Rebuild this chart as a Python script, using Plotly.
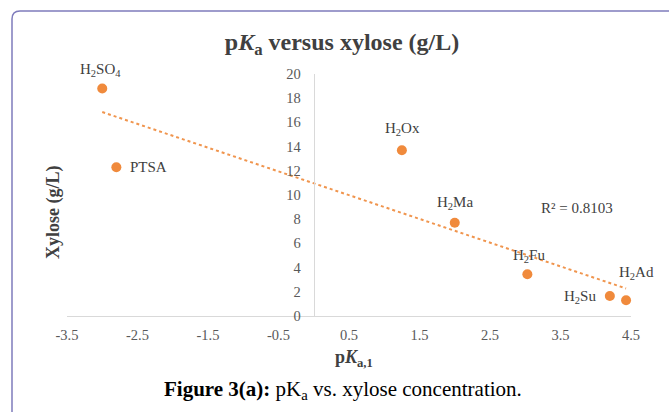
import numpy as np
import plotly.graph_objects as go

acids = ["H<sub>2</sub>SO<sub>4</sub>", "PTSA", "H<sub>2</sub>Ox", "H<sub>2</sub>Ma",
         "H<sub>2</sub>Fu", "H<sub>2</sub>Su", "H<sub>2</sub>Ad"]
pka1 = [-3.0, -2.8, 1.25, 2.0, 3.03, 4.2, 4.43]
xylose = [18.8, 12.3, 13.7, 7.7, 3.45, 1.65, 1.3]
x_ticks = [-3.5, -2.5, -1.5, -0.5, 0.5, 1.5, 2.5, 3.5, 4.5]
y_ticks = [0, 2, 4, 6, 8, 10, 12, 14, 16, 18, 20]
r2_text = "R² = 0.8103"

# label pixel offsets (style only): (xshift, yshift)
label_shift = [(-2, 19), (32, 0), (1, 21), (0, 20), (2, 18), (-30, -1), (10, 27)]

orange = "#F08A3C"
serif = "Liberation Serif, Times New Roman, serif"
gray = "#595959"
dark = "#404040"

slope, intercept = np.polyfit(pka1, xylose, 1)
tx = np.array([min(pka1), max(pka1)])
ty = slope * tx + intercept

fig = go.Figure()
fig.add_trace(go.Scatter(
    x=tx, y=ty, mode="lines",
    line=dict(color="#F0954E", width=2, dash="dot"),
    hoverinfo="skip", showlegend=False))
fig.add_trace(go.Scatter(
    x=pka1, y=xylose, mode="markers",
    marker=dict(color=orange, size=10),
    cliponaxis=False, showlegend=False))

for name, xv, yv, (dx, dy) in zip(acids, pka1, xylose, label_shift):
    fig.add_annotation(text=name, x=xv, y=yv, xref="x", yref="y",
                       xshift=dx, yshift=dy, showarrow=False,
                       xanchor="center", yanchor="middle",
                       font=dict(family=serif, size=15, color=dark))

fig.update_layout(
    width=669, height=412,
    margin=dict(l=67, r=38, t=74, b=96),
    paper_bgcolor="white", plot_bgcolor="white",
    font=dict(family=serif, color=gray),
    title=dict(text="<b>p<i>K</i><sub>a</sub> versus xylose (g/L)</b>",
               x=0.4876, xref="paper", xanchor="center",
               y=1 - 42 / 412, yref="container", yanchor="middle",
               font=dict(family=serif, size=24, color=dark)),
    xaxis=dict(range=[-3.5, 4.5], tickmode="array", tickvals=x_ticks,
               ticktext=[str(v) for v in x_ticks],
               showgrid=False, zeroline=False, showline=True,
               linecolor="#d9d9d9", linewidth=1,
               tickfont=dict(family=serif, size=14.5, color=gray),
               ticks="", ticklabelstandoff=6),
    yaxis=dict(range=[0, 20], tickmode="array", tickvals=y_ticks,
               showgrid=False, zeroline=False, showline=True,
               linecolor="#d9d9d9", linewidth=1,
               anchor="free", position=3.5 / 8,
               tickfont=dict(family=serif, size=14.5, color=gray),
               ticks="", ticklabelstandoff=10),
)

def px2paper(px, py):
    return (px - 67) / 564, (316 - py) / 242

ax, ay = px2paper(577, 208)
fig.add_annotation(text=r2_text, x=ax, y=ay, xref="paper", yref="paper",
                   showarrow=False, xanchor="center", yanchor="middle",
                   font=dict(family=serif, size=15, color=dark))
ax, ay = px2paper(53, 212)
fig.add_annotation(text="<b>Xylose (g/L)</b>", textangle=-90,
                   x=ax, y=ay, xref="paper", yref="paper", showarrow=False,
                   xanchor="center", yanchor="middle",
                   font=dict(family=serif, size=18, color=dark))
ax, ay = px2paper(354, 358)
fig.add_annotation(text="<b>p<i>K</i><sub>a,1</sub></b>",
                   x=ax, y=ay, xref="paper", yref="paper", showarrow=False,
                   xanchor="center", yanchor="middle",
                   font=dict(family=serif, size=18, color=dark))
ax, ay = px2paper(343, 390)
fig.add_annotation(text="<b>Figure 3(a):</b> pK<sub>a</sub> vs. xylose concentration.",
                   x=ax, y=ay, xref="paper", yref="paper", showarrow=False,
                   xanchor="center", yanchor="middle",
                   font=dict(family=serif, size=21, color="#000000"))

# rounded frame (paper coordinates)
L, T = px2paper(12, 11)
R, B = px2paper(700, 440)
rx = 8 / 564
ry = 8 / 242
fig.add_shape(type="path", xref="paper", yref="paper",
              path=f"M {L},{B} L {L},{T - ry} Q {L},{T} {L + rx},{T} L {R},{T}",
              line=dict(color="#7f7cbc", width=1.5))

fig.write_html("out.html")
